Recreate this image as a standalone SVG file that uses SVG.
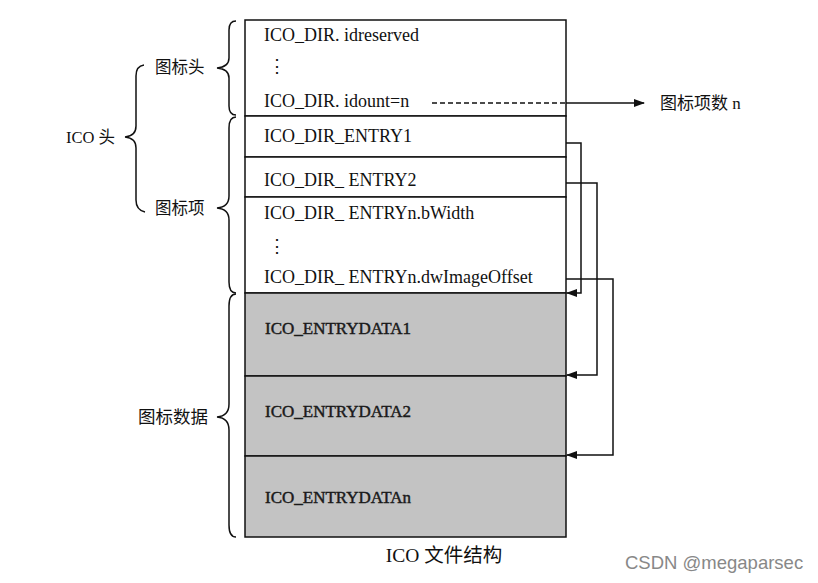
<svg xmlns="http://www.w3.org/2000/svg" width="818" height="583" viewBox="0 0 818 583">
<defs>
<marker id="ah" markerWidth="11" markerHeight="8" refX="10" refY="4" orient="auto" markerUnits="userSpaceOnUse">
<path d="M0,0 L11,4 L0,8 Z" fill="#111"/>
</marker>
<style>
.t{font-family:"Liberation Serif","Noto Sans CJK SC",serif;font-size:18px;fill:#111}
.b{font-family:"Liberation Serif",serif;font-size:17px;fill:#1a1a1a;stroke:#1a1a1a;stroke-width:0.45}
.cn{font-family:"Liberation Serif","Noto Sans CJK SC",serif;font-size:16.5px;fill:#111}
.box{fill:#fff;stroke:#111;stroke-width:1.5}
.gray{fill:#c3c3c3;stroke:#111;stroke-width:1.5}
.br{fill:none;stroke:#111;stroke-width:1.5}
.ln{fill:none;stroke:#111;stroke-width:1.5}
</style>
</defs>
<rect width="818" height="583" fill="#fff"/>
<g id="header">
<rect class="box" x="245" y="20" width="321" height="96"/>
<text class="t" x="264" y="41">ICO_DIR. idreserved</text>
<text class="t" x="268" y="72">⋮</text>
<text class="t" x="264" y="107">ICO_DIR. idount=n</text>
</g>
<g id="entry1">
<rect class="box" x="245" y="116" width="321" height="41"/>
<text class="t" x="264" y="142">ICO_DIR_ENTRY1</text>
</g>
<g id="entry2">
<rect class="box" x="245" y="157" width="321" height="40"/>
<text class="t" x="264" y="186">ICO_DIR_ ENTRY2</text>
</g>
<g id="entryn">
<rect class="box" x="245" y="197" width="321" height="96"/>
<text class="t" x="264" y="219">ICO_DIR_ ENTRYn.bWidth</text>
<text class="t" x="268" y="252">⋮</text>
<text class="t" x="264" y="283">ICO_DIR_ ENTRYn.dwImageOffset</text>
</g>
<g id="data1">
<rect class="gray" x="245" y="293" width="321" height="83"/>
<text class="b" x="265" y="334">ICO_ENTRYDATA1</text>
</g>
<g id="data2">
<rect class="gray" x="245" y="376" width="321" height="80"/>
<text class="b" x="265" y="417">ICO_ENTRYDATA2</text>
</g>
<g id="datan">
<rect class="gray" x="245" y="456" width="321" height="81"/>
<text class="b" x="265" y="503">ICO_ENTRYDATAn</text>
</g>
<g id="braces">
<path class="br" d="M236,21 Q229,21 229,30 L229,58 Q229,67 217,68 Q229,69 229,78 L229,106 Q229,115 236,115"/>
<path class="br" d="M236,117 Q229,117 229,128 L229,196 Q229,207 217,208 Q229,209 229,220 L229,282 Q229,293 236,293"/>
<path class="br" d="M236,294 Q229,294 229,306 L229,404 Q229,416 217,417 Q229,418 229,430 L229,525 Q229,537 236,537"/>
<path class="br" d="M144,65 Q136,66 136,76 L136,126 Q136,136 125,137 Q136,138 136,148 L136,200 Q136,210 145,212"/>
</g>
<g id="labels">
<text class="cn" x="155" y="73">图标头</text>
<text class="cn" x="66" y="143">ICO 头</text>
<text class="cn" x="155" y="214">图标项</text>
<text class="cn" x="138" y="423" style="font-size:17.5px">图标数据</text>
<text class="cn" x="660" y="109" style="font-size:17px">图标项数 n</text>
<text class="t" x="444" y="562" text-anchor="middle" style="font-size:19.5px">ICO 文件结构</text>
<text x="625" y="569" style="font-family:'Liberation Sans',Arial,sans-serif;font-size:18.5px;fill:#888">CSDN @megaparsec</text>
</g>
<g id="connectors">
<line class="ln" x1="432" y1="103" x2="566" y2="103" stroke-dasharray="5,3"/>
<line class="ln" x1="566" y1="103" x2="644" y2="103" marker-end="url(#ah)"/>
<polyline class="ln" points="566,143 581,143 581,293 567,293" marker-end="url(#ah)"/>
<polyline class="ln" points="566,183 597,183 597,375 567,375" marker-end="url(#ah)"/>
<polyline class="ln" points="566,279 613,279 613,455 567,455" marker-end="url(#ah)"/>
</g>
</svg>
